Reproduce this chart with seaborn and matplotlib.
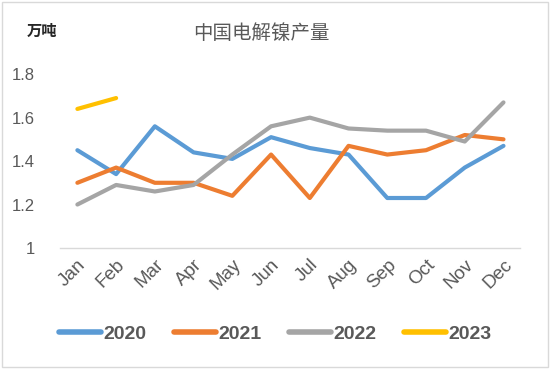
import pandas as pd
import numpy as np
import matplotlib.pyplot as plt
import seaborn as sns

# Data
months = ["Jan", "Feb", "Mar", "Apr", "May", "Jun", "Jul", "Aug", "Sep", "Oct", "Nov", "Dec"]
y2020 = [1.45, 1.34, 1.56, 1.44, 1.41, 1.51, 1.46, 1.43, 1.23, 1.23, 1.37, 1.47]
y2021 = [1.30, 1.37, 1.30, 1.30, 1.24, 1.43, 1.23, 1.47, 1.43, 1.45, 1.52, 1.50]
y2022 = [1.20, 1.29, 1.26, 1.29, 1.43, 1.56, 1.60, 1.55, 1.54, 1.54, 1.49, 1.67]
y2023 = [1.64, 1.69]
years = ["2020", "2021", "2022", "2023"]
colors = ["#5B9BD5", "#ED7D31", "#A5A5A5", "#FFC000"]

rows = []
for yr, vals in zip(years, [y2020, y2021, y2022, y2023]):
    for i, v in enumerate(vals):
        rows.append({"month": i, "value": v, "year": yr})
df = pd.DataFrame(rows)

sns.set_theme(style="white")
plt.rcParams['font.family'] = ['Liberation Sans', 'Noto Sans CJK SC', 'DejaVu Sans']

fig = plt.figure(figsize=(5.5, 3.69), dpi=100)
ax = fig.add_axes([0.109, 0.328, 0.836, 0.471])

sns.lineplot(data=df, x="month", y="value", hue="year", palette=colors,
             linewidth=3, ax=ax, legend=False)

ax.set_xlim(-0.45, 11.42)
ax.set_ylim(1, 1.8)
ax.set_yticks([1, 1.2, 1.4, 1.6, 1.8])
ax.set_yticklabels(["1", "1.2", "1.4", "1.6", "1.8"])
ax.set_xticks(range(12))
ax.set_xticklabels(months, rotation=45, ha="right", rotation_mode="anchor")
ax.tick_params(axis="both", length=0, colors="#595959")
ax.tick_params(axis="y", labelsize=12, pad=18)
ax.tick_params(axis="x", labelsize=13.5, pad=6)
ax.set_xlabel("")
ax.set_ylabel("")
for s in ["top", "right", "left"]:
    ax.spines[s].set_visible(False)
ax.spines["bottom"].set_color("#D9D9D9")
ax.spines["bottom"].set_linewidth(1)

fig.text(0.476, 0.91, "中国电解镍产量", ha="center", va="center", fontsize=14,
         color="#595959", family=['Noto Sans CJK SC', 'DejaVu Sans'])
fig.text(0.077, 0.915, "万吨", ha="center", va="center", fontsize=11,
         color="#262626", weight="bold", family=['Noto Sans CJK SC', 'DejaVu Sans'])

handles = [plt.Line2D([0], [0], color=c, lw=4, solid_capstyle="round") for c in colors]
leg = fig.legend(handles, years, loc="center", bbox_to_anchor=(0.5, 0.095), ncol=4,
                 frameon=False, prop={"size": 14, "weight": "bold"},
                 handlelength=2.2, handletextpad=0.1, columnspacing=1.4)
for t in leg.get_texts():
    t.set_color("#595959")

# figure border
fig.patches.append(plt.Rectangle((0.003, 0.005), 0.994, 0.99, transform=fig.transFigure,
                                 fill=False, edgecolor="#D9D9D9", linewidth=1))

plt.savefig("out.png", dpi=100)
